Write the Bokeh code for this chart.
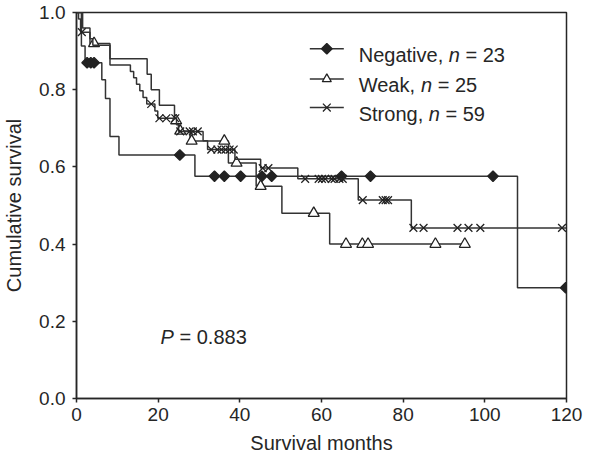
import numpy as np
from bokeh.plotting import figure
from bokeh.models import Range1d, FixedTicker
from bokeh.core.properties import value
from bokeh.embed import file_html
from bokeh.resources import INLINE

# ---------------- data ----------------
neg_times = [0, 1.2, 2.1, 6.2, 7.1, 8.2, 10.4, 29.0, 108.0]
neg_surv = [1.0, 0.913, 0.870, 0.826, 0.777, 0.679, 0.631, 0.576, 0.287]
neg_end = 120.0
neg_censor = [2.6, 3.5, 4.3, 25.3, 33.8, 36.2, 40.2, 45.4, 47.8, 64.9, 72.0, 102.0, 119.8]

weak_times = [0, 1.5, 3.3, 8.2, 17.3, 18.3, 20.3, 24.0, 25.0, 27.8, 37.2, 44.0, 50.3, 62.0]
weak_surv = [1.0, 0.96, 0.92, 0.88, 0.84, 0.80, 0.76, 0.72, 0.693, 0.667, 0.61, 0.55, 0.48, 0.40]
weak_end = 95.1
weak_censor = [4.3, 24.4, 25.4, 28.2, 36.2, 39.2, 45.1, 58.1, 66.0, 70.0, 71.4, 87.9, 95.1]

strong_times = [0, 0.5, 1.0, 3.3, 4.0, 8.2, 13.2, 14.0, 14.7, 15.5, 16.3, 17.2, 19.2, 19.9,
                24.5, 25.0, 31.0, 32.1, 38.8, 45.1, 54.2, 69.0, 82.0]
strong_surv = [1.0, 0.983, 0.949, 0.932, 0.915, 0.864, 0.847, 0.831, 0.814, 0.797, 0.780, 0.763,
               0.745, 0.726, 0.709, 0.692, 0.668, 0.645, 0.620, 0.597, 0.569, 0.514, 0.442]
strong_end = 120.0
strong_censor = [1.3, 18.3, 20.3, 22.0, 24.2, 25.4, 27.7, 28.5, 29.7, 33.0, 34.5, 35.5, 36.5,
                 37.5, 38.5, 45.6, 47.0, 56.0, 59.3, 60.1, 60.9, 62.5, 63.2, 64.4, 65.2, 70.1,
                 75.0, 75.7, 76.3, 82.5, 85.0, 93.3, 96.0, 98.9, 118.9]

x_ticks = [0, 20, 40, 60, 80, 100, 120]
y_ticks = [0.0, 0.2, 0.4, 0.6, 0.8, 1.0]
legend_names = ["Negative,", "Weak,", "Strong,"]
legend_counts = ["= 23", "= 25", "= 59"]
p_value_text = "= 0.883"

FONT = "Liberation Sans"
INK = "#262626"

# ---------------- figure ----------------
W, H = 584, 456
ML, MR, MT, MB = 76, 18, 12, 58
p = figure(width=W, height=H, output_backend="svg", toolbar_location=None,
           x_range=Range1d(0, 120), y_range=Range1d(0, 1),
           min_border_left=ML, min_border_right=MR, min_border_top=MT, min_border_bottom=MB)
p.xgrid.visible = False
p.ygrid.visible = False
p.outline_line_color = INK
p.outline_line_width = 1.5
p.background_fill_color = "white"
p.border_fill_color = "white"

for ax in (p.xaxis[0], p.yaxis[0]):
    ax.axis_line_color = INK
    ax.axis_line_width = 1.5
    ax.major_tick_line_color = INK
    ax.major_tick_line_width = 1.5
    ax.major_tick_out = 4
    ax.major_tick_in = 0
    ax.minor_tick_out = 0
    ax.minor_tick_in = 0
    ax.major_label_text_font = FONT
    ax.major_label_text_font_size = "19px"
    ax.major_label_text_color = INK
    ax.axis_label_text_font = FONT
    ax.axis_label_text_font_size = "20px"
    ax.axis_label_text_font_style = "normal"
    ax.axis_label_text_color = INK

p.xaxis.ticker = FixedTicker(ticks=x_ticks)
p.yaxis.ticker = FixedTicker(ticks=y_ticks)
p.yaxis.major_label_overrides = {t: f"{t:.1f}" for t in y_ticks}
p.xaxis.major_label_overrides = {t: str(t) for t in x_ticks}
p.xaxis.axis_label = "Survival months"
p.yaxis.axis_label = "Cumulative survival"
p.xaxis.major_label_standoff = 5
p.xaxis.axis_label_standoff = 8
p.yaxis.major_label_standoff = 7
p.yaxis.axis_label_standoff = 11

LC = "#333333"


def draw(times, surv, end, censor, marker, msize, fill, angle=0.0):
    xs = list(times) + [end]
    ys = list(surv) + [surv[-1]]
    p.step(xs, ys, mode="after", line_color=LC, line_width=1.5)
    t = np.asarray(times)
    s = np.asarray(surv)
    cy = [float(s[np.searchsorted(t, c, side="right") - 1]) for c in censor]
    p.scatter(censor, cy, marker=marker, size=msize, fill_color=fill,
              line_color="#222222", line_width=1.3, angle=angle)


draw(neg_times, neg_surv, neg_end, neg_censor, "square", 7.5, "#222222", np.pi / 4)
draw(weak_times, weak_surv, weak_end, weak_censor, "triangle", 11, "white")
draw(strong_times, strong_surv, strong_end, strong_censor, "x", 11, None)

# ---------------- annotations: positions taken from the reference picture's pixel grid ----------------
RL, RR, RT, RB = 76.0, 583.0, 12.0, 406.0


def dx(px):
    return (px - RL) / (RR - RL) * 120.0


def dy(py):
    return (RB - py) / (RB - RT)


rows_line = [49, 80, 109]
rows_base = [55, 86, 116]
markers = [("square", 7.5, "#222222", np.pi / 4), ("triangle", 9, "white", 0.0), ("x", 11, None, 0.0)]
name_w = [90.1, 62.3, 70.1]   # width of name text plus one space, px
N_W = 11.1
SP_W = 5.6
for i in range(3):
    yl = dy(rows_line[i])
    xc = dx(335)
    m, s, f, a = markers[i]
    yb = dy(rows_base[i])
    x0 = dx(368)
    p.text([x0], [yb], text=[legend_names[i]], text_font=value(FONT),
           text_font_size="20px", text_color=INK, text_baseline="alphabetic", text_align="left")
    p.text([x0], [yb], text=["n"], x_offset=name_w[i], text_font=value(FONT),
           text_font_size="20px", text_font_style="italic", text_color=INK,
           text_baseline="alphabetic", text_align="left")
    p.text([x0], [yb], text=[legend_counts[i]], x_offset=name_w[i] + N_W + SP_W,
           text_font=value(FONT), text_font_size="20px", text_color=INK,
           text_baseline="alphabetic", text_align="left")
    p.scatter([xc], [yl], marker="dash", size=34, line_color=LC, line_width=1.5)
    p.scatter([xc], [yl], marker=m, size=s, fill_color=f, line_color="#222222",
              line_width=1.3, angle=a)

p.text([dx(163)], [dy(343)], text=["P"], text_font=value(FONT), text_font_size="20px",
       text_font_style="italic", text_color=INK, text_baseline="alphabetic", text_align="left")
p.text([dx(163)], [dy(343)], text=[p_value_text], x_offset=13.3 + SP_W, text_font=value(FONT),
       text_font_size="20px", text_color=INK, text_baseline="alphabetic", text_align="left")

open("out.html", "w").write(file_html(p, INLINE))
